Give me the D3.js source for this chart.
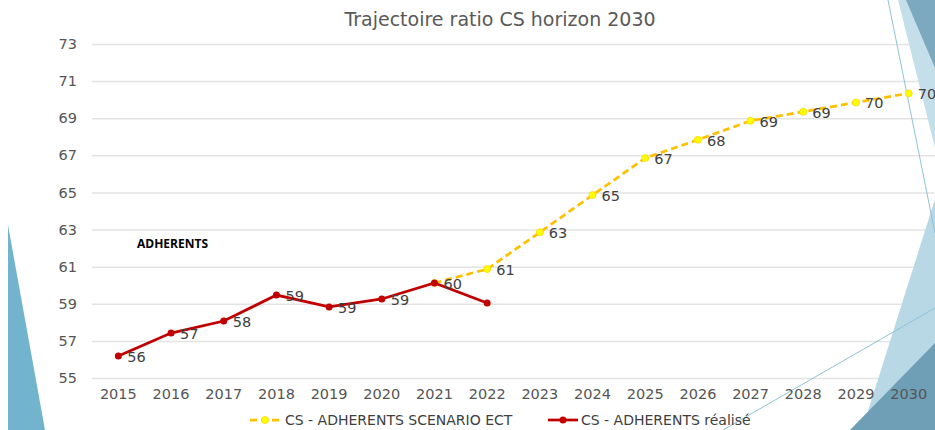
<!DOCTYPE html>
<html>
<head>
<meta charset="utf-8">
<script src="https://cdn.jsdelivr.net/npm/d3@7"></script>
<style>
  html, body { margin: 0; padding: 0; background: #fff; }
  svg { display: block; }
</style>
</head>
<body>
<svg id="chart" width="935" height="430"></svg>
<script>
// ---- data ----
const years = ["2015","2016","2017","2018","2019","2020","2021","2022","2023","2024","2025","2026","2027","2028","2029","2030"];
const realised = [56.19, 57.42, 58.07, 59.47, 58.83, 59.26, 60.12, 59.04, null, null, null, null, null, null, null, null];
const realisedLabels = ["56","57","58","59","59","59","60", null, null, null, null, null, null, null, null, null];
const scenario = [null, null, null, null, null, null, 60.12, 60.87, 62.85, 64.86, 66.85, 67.84, 68.86, 69.35, 69.85, 70.34];
const scenarioLabels = [null, null, null, null, null, null, null, "61","63","65","67","68","69","69","70","70"];
const yTicks = [55, 57, 59, 61, 63, 65, 67, 69, 71, 73];
const seriesNames = ["CS - ADHERENTS SCENARIO ECT", "CS - ADHERENTS réalisé"];
const title = "Trajectoire ratio CS horizon 2030";
const note = "ADHERENTS";

// ---- layout ----
const svg = d3.select("#chart");
const mLeft = 92, mRight = 935, mTop = 44, mBottom = 378;
const font = "'DejaVu Sans', sans-serif";

const x = d3.scaleBand().domain(years).range([mLeft, mRight]).padding(0);
const y = d3.scaleLinear().domain([55, 73]).range([mBottom, mTop]);
const cx = d => x(d) + x.bandwidth() / 2;

// gridlines
const grid = svg.append("g")
  .attr("transform", `translate(${mLeft},0)`)
  .call(d3.axisLeft(y).tickValues(yTicks).tickSize(-(mRight - mLeft)).tickFormat(""));
grid.select(".domain").remove();
grid.selectAll(".tick line").attr("stroke", "#E3E3E3").attr("stroke-width", 1.5);

// decorations
const deco = svg.append("g");
deco.append("polygon").attr("points", "8,225 8,430 45,430").attr("fill", "#72B4CE");
deco.append("polygon").attr("points", "898,0 935,0 935,148").attr("fill", "#C4DFEA");
deco.append("polygon").attr("points", "906,0 935,0 935,68").attr("fill", "#7DA9C0");
deco.append("polygon").attr("points", "935,199 935,430 862,430").attr("fill", "#B9D8E6");
deco.append("polygon").attr("points", "935,343 935,430 850,430").attr("fill", "#6F9FB7");
deco.append("line").attr("x1", 888).attr("y1", 0).attr("x2", 935).attr("y2", 233).attr("stroke", "#8FC2D7").attr("stroke-width", 1);
deco.append("line").attr("x1", 723).attr("y1", 430).attr("x2", 935).attr("y2", 308).attr("stroke", "#8FC2D7").attr("stroke-width", 1);

// y labels
const yAxis = svg.append("g")
  .attr("transform", `translate(${mLeft},0)`)
  .call(d3.axisLeft(y).tickValues(yTicks).tickSize(0).tickPadding(15).tickFormat(d3.format("d")));
yAxis.select(".domain").remove();
yAxis.selectAll(".tick text").attr("fill", "#555").style("font-family", font).style("font-size", "14.5px");

// x labels
const xAxis = svg.append("g")
  .attr("transform", `translate(0,${mBottom})`)
  .call(d3.axisBottom(x).tickSize(0).tickPadding(11));
xAxis.select(".domain").remove();
xAxis.selectAll(".tick text").attr("fill", "#555").style("font-family", font).style("font-size", "14.5px");

// lines
const line = d3.line().defined(d => d.v != null).x(d => cx(d.year)).y(d => y(d.v));
const scenData = years.map((yr, i) => ({year: yr, v: scenario[i], label: scenarioLabels[i]}));
const realData = years.map((yr, i) => ({year: yr, v: realised[i], label: realisedLabels[i]}));

svg.append("path").datum(scenData).attr("d", line)
  .attr("fill", "none").attr("stroke", "#FFC000").attr("stroke-width", 2.75).attr("stroke-dasharray", "7,4");
svg.selectAll("circle.scen").data(scenData.filter(d => d.v != null)).enter().append("circle")
  .attr("class", "scen").attr("cx", d => cx(d.year)).attr("cy", d => y(d.v)).attr("r", 3.5).attr("fill", "#FFFF00").attr("stroke", "#FFD700").attr("stroke-width", 0.8);

svg.append("path").datum(realData).attr("d", line)
  .attr("fill", "none").attr("stroke", "#C00000").attr("stroke-width", 2.75);
svg.selectAll("circle.real").data(realData.filter(d => d.v != null)).enter().append("circle")
  .attr("class", "real").attr("cx", d => cx(d.year)).attr("cy", d => y(d.v)).attr("r", 3.5).attr("fill", "#C00000");

// data labels
const labels = scenData.concat(realData).filter(d => d.v != null && d.label != null);
svg.selectAll("text.lbl").data(labels).enter().append("text")
  .attr("class", "lbl")
  .attr("x", d => cx(d.year) + 9).attr("y", d => y(d.v) + 6)
  .attr("fill", "#404040").style("font-family", font).style("font-size", "14.5px")
  .text(d => d.label);

// title
svg.append("text").attr("x", 500).attr("y", 26).attr("text-anchor", "middle")
  .attr("fill", "#595959").style("font-family", font).style("font-size", "19px")
  .text(title);

// note
svg.append("text").attr("x", 137).attr("y", 248)
  .attr("fill", "#000").style("font-family", "'Open Sans', sans-serif").style("font-size", "12px").style("font-weight", "bold")
  .text(note);

// legend
const lg = svg.append("g");
const ly = 420;
lg.append("line").attr("x1", 250).attr("x2", 280).attr("y1", ly).attr("y2", ly)
  .attr("stroke", "#FFC000").attr("stroke-width", 2.75).attr("stroke-dasharray", "7,4");
lg.append("circle").attr("cx", 265).attr("cy", ly).attr("r", 3.5).attr("fill", "#FFFF00").attr("stroke", "#FFD700").attr("stroke-width", 0.8);
lg.append("text").attr("x", 285).attr("y", ly + 5).attr("fill", "#404040")
  .style("font-family", font).style("font-size", "14px").text(seriesNames[0]);
lg.append("line").attr("x1", 548).attr("x2", 578).attr("y1", ly).attr("y2", ly)
  .attr("stroke", "#C00000").attr("stroke-width", 2.75);
lg.append("circle").attr("cx", 563).attr("cy", ly).attr("r", 3.5).attr("fill", "#C00000");
lg.append("text").attr("x", 581).attr("y", ly + 5).attr("fill", "#404040")
  .style("font-family", font).style("font-size", "14px").text(seriesNames[1]);
</script>
</body>
</html>
